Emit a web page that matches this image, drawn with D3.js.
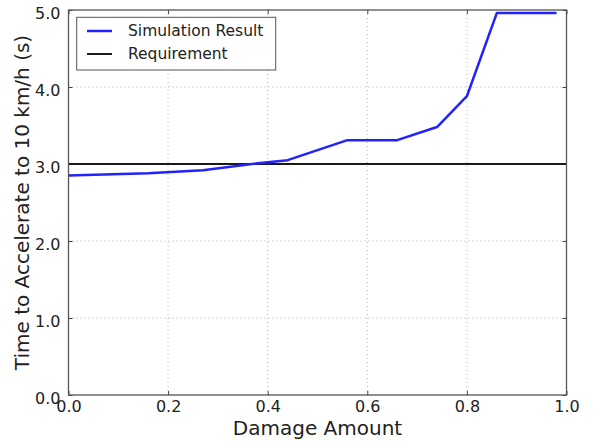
<!DOCTYPE html>
<html>
<head>
<meta charset="utf-8">
<script src="https://cdn.jsdelivr.net/npm/d3@7"></script>
<style>
  html, body { margin: 0; padding: 0; background: #fff; }
  svg { display: block; }
  text { font-family: "DejaVu Sans", sans-serif; fill: #222; }
</style>
</head>
<body>
<svg id="chart" width="597" height="442"></svg>
<script>
// ---- data ----
const damage = [0.00, 0.16, 0.27, 0.38, 0.44, 0.56, 0.66, 0.74, 0.80, 0.86, 0.98];
const timeToAccel = [2.85, 2.88, 2.92, 3.01, 3.05, 3.31, 3.31, 3.48, 3.88, 4.96, 4.96];
const requirement = 3.0;
const xTicks = [0.0, 0.2, 0.4, 0.6, 0.8, 1.0];
const yTicks = [0.0, 1.0, 2.0, 3.0, 4.0, 5.0];
const seriesNames = ["Simulation Result", "Requirement"];
const xLabel = "Damage Amount";
const yLabel = "Time to Accelerate to 10 km/h (s)";

// ---- layout ----
const svg = d3.select("#chart");
const L = 68.5, R = 566.5, T = 10, B = 395;
const x = d3.scaleLinear().domain([0, 1]).range([L, R]);
const y = d3.scaleLinear().domain([0, 5]).range([B, T]);

// grid
const grid = svg.append("g").attr("stroke", "#b0b0b0").attr("stroke-width", 1)
  .attr("stroke-dasharray", "1,3");
xTicks.filter(t => t > 0 && t < 1).forEach(t => {
  grid.append("line").attr("x1", x(t)).attr("x2", x(t)).attr("y1", T).attr("y2", B);
});
yTicks.filter(t => t > 0 && t < 5).forEach(t => {
  grid.append("line").attr("x1", L).attr("x2", R).attr("y1", y(t)).attr("y2", y(t));
});

// axes (ticks inside)
const tickLen = 4;
const xAxisB = d3.axisBottom(x).tickValues(xTicks).tickFormat(d3.format(".1f")).tickSizeInner(-tickLen).tickSizeOuter(0).tickPadding(7);
const xAxisT = d3.axisTop(x).tickValues(xTicks).tickFormat("").tickSizeInner(-tickLen).tickSizeOuter(0);
const yAxisL = d3.axisLeft(y).tickValues(yTicks).tickFormat(d3.format(".1f")).tickSizeInner(-tickLen).tickSizeOuter(0).tickPadding(8);
const yAxisR = d3.axisRight(y).tickValues(yTicks).tickFormat("").tickSizeInner(-tickLen).tickSizeOuter(0);

function styleAxis(g) {
  g.select(".domain").remove();
  g.selectAll(".tick line").attr("stroke", "#444").attr("stroke-width", 1);
  g.selectAll(".tick text").style("font-family", "DejaVu Sans, sans-serif").style("font-size", "16px").attr("fill", "#222");
}
const gxb = svg.append("g").attr("transform", `translate(0,${B})`).call(xAxisB).call(styleAxis);
gxb.selectAll(".tick text").attr("dy", "0.62em");
svg.append("g").attr("transform", `translate(0,${T})`).call(xAxisT).call(styleAxis);
const gyl = svg.append("g").attr("transform", `translate(${L},0)`).call(yAxisL).call(styleAxis);
gyl.selectAll(".tick text").attr("dy", "0.5em");
svg.append("g").attr("transform", `translate(${R},0)`).call(yAxisR).call(styleAxis);

// requirement line
svg.append("line").attr("x1", L).attr("x2", R).attr("y1", y(requirement)).attr("y2", y(requirement))
  .attr("stroke", "#1a1a1a").attr("stroke-width", 2);

// simulation line
const line = d3.line().x((d, i) => x(damage[i])).y(d => y(d));
svg.append("path").datum(timeToAccel).attr("d", line)
  .attr("fill", "none").attr("stroke", "#2222ff").attr("stroke-width", 2.5).attr("stroke-linejoin", "round");

// frame
svg.append("rect").attr("x", L).attr("y", T).attr("width", R - L).attr("height", B - T)
  .attr("fill", "none").attr("stroke", "#555").attr("stroke-width", 1.3);

// legend
const lg = svg.append("g");
lg.append("rect").attr("x", 76.7).attr("y", 17.3).attr("width", 199).attr("height", 52.7)
  .attr("fill", "#fff").attr("stroke", "#555").attr("stroke-width", 1);
const legendColors = ["#2222ff", "#1a1a1a"];
seriesNames.forEach((name, i) => {
  const yy = 31 + i * 23;
  lg.append("line").attr("x1", 87).attr("x2", 112).attr("y1", yy).attr("y2", yy)
    .attr("stroke", legendColors[i]).attr("stroke-width", i === 0 ? 2.5 : 2);
  lg.append("text").attr("x", 128).attr("y", yy).attr("dy", "0.35em")
    .style("font-size", "15.5px").text(name);
});

// axis labels
svg.append("text").attr("x", (L + R) / 2).attr("y", 435).attr("text-anchor", "middle")
  .style("font-size", "20px").text(xLabel);
svg.append("text").attr("transform", `translate(29,${(T + B) / 2}) rotate(-90)`)
  .attr("text-anchor", "middle").style("font-size", "20px").text(yLabel);
</script>
</body>
</html>
